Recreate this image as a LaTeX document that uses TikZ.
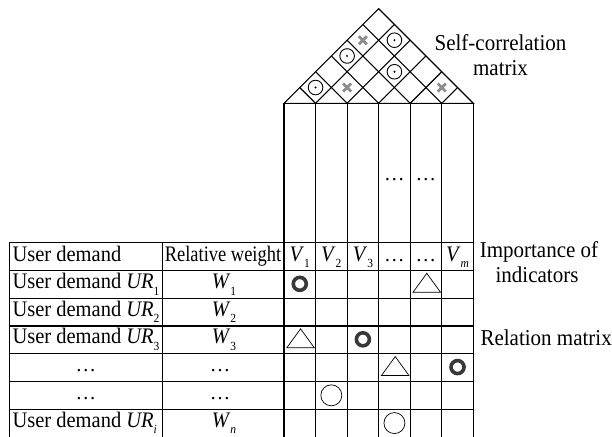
\documentclass[tikz,border=0pt]{standalone}
\usepackage{fontspec}
\setmainfont{Liberation Serif}
\newcommand{\mysub}[1]{\raisebox{-0.3em}{\fontsize{11.5}{12}\selectfont #1}}
\newcommand{\vst}[1]{\scalebox{1}[1.08]{#1}}
\begin{document}
\begin{tikzpicture}[x=1pt,y=-1pt,line width=1.1pt,
  txt/.style={inner sep=0pt,font=\fontsize{20.5}{22}\selectfont},
  lbl/.style={inner sep=0pt,font=\fontsize{21}{25}\selectfont},
  codot/.pic={\draw[line width=0.9pt] (0,0) circle (7.3); \fill (0,0) circle (1.1);},
  xmark/.pic={\draw[black!45,line width=2.8pt] (-4,-4)--(4,4) (-4,4)--(4,-4);},
  ring/.pic={\draw[black!78,line width=3.6pt] (0,0) circle (6.5);},
  tri/.pic={\draw[line width=0.7pt] (-13.8,8) -- (13.8,8) -- (0,-11) -- cycle;},
  thinc/.pic={\draw[line width=0.7pt] (0,0) circle (10.5);}]
\useasboundingbox (0,0) rectangle (612,436);
\def\xo{284}\def\w{31.55}\def\yb{103.3}\def\yt{242.7}\def\rh{27.75}
% roof
\draw (\xo,\yb) -- ({\xo+3*\w},{\yb-3*\w}) -- ({\xo+6*\w},\yb) -- cycle;
\foreach \k in {1,...,5}{
  \draw ({\xo+\k*\w},\yb) -- ++({-\k*\w/2},{-\k*\w/2});
  \draw ({\xo+\k*\w},\yb) -- ++({(6-\k)*\w/2},{-(6-\k)*\w/2});
}
\foreach \i/\j in {1/1,1/3,3/4,2/5}
  \pic at ({\xo+\w*(\i+\j)/2},{\yb-(\j-\i+1)*\w/2}) {codot};
\foreach \i/\j in {2/2,5/5,1/4}
  \pic at ({\xo+\w*(\i+\j)/2},{\yb-(\j-\i+1)*\w/2}) {xmark};
% columns
\foreach \k in {0,...,6}
  \draw ({\xo+\k*\w},\yb) -- ({\xo+\k*\w},437);
\draw (9.3,\yt) -- (9.3,437);
\draw (162.3,\yt) -- (162.3,437);
\foreach \r in {0,...,6}
  \draw (9.3,{\yt+\r*\rh}) -- ({\xo+6*\w},{\yt+\r*\rh});
% relation symbols
\foreach \c/\r in {1/1,3/3,6/4}
  \pic at ({\xo+\w*(\c-0.5)},{\yt+\rh*(\r+0.5)-0.5}) {ring};
\foreach \c/\r in {5/1,1/3,4/4}
  \pic at ({\xo+\w*(\c-0.5)+0.8},{\yt+\rh*(\r+0.5)}) {tri};
\foreach \c/\r in {2/5,4/6}
  \pic at ({\xo+\w*(\c-0.5)},{\yt+\rh*(\r+0.5)}) {thinc};
% header texts
\node[txt,anchor=base west] (h1) at (12,261) {\vst{User demand}};
\node[txt,anchor=base] (h2) at (223,261) {\vst{\scalebox{0.9}[1]{Relative weight}}};
\node[txt,anchor=base] (v1) at ({\xo+0.5*\w},261) {\vst{\textit{V}\mysub{1}}};
\node[txt,anchor=base] (v2) at ({\xo+1.5*\w},261) {\vst{\textit{V}\mysub{2}}};
\node[txt,anchor=base] (v3) at ({\xo+2.5*\w},261) {\vst{\textit{V}\mysub{3}}};
\node[txt,anchor=base] (v4) at ({\xo+3.5*\w},261) {\dots};
\node[txt,anchor=base] (v5) at ({\xo+4.5*\w},261) {\dots};
\node[txt,anchor=base] (v6) at ({\xo+5.5*\w},261) {\vst{\textit{V}\mysub{\textit{m}}}};
\node[txt,anchor=base] (d4) at ({\xo+3.5*\w},180) {\dots};
\node[txt,anchor=base] (d5) at ({\xo+4.5*\w},180) {\dots};
% rows
\node[txt,anchor=base west] (u1) at (12,{\yt+1*\rh+18}) {\vst{User demand \textit{UR}\mysub{1}}};
\node[txt,anchor=base west] (u2) at (12,{\yt+2*\rh+18}) {\vst{User demand \textit{UR}\mysub{2}}};
\node[txt,anchor=base west] (u3) at (12,{\yt+3*\rh+18}) {\vst{User demand \textit{UR}\mysub{3}}};
\node[txt,anchor=base] (u4) at (85.8,{\yt+4*\rh+18}) {\dots};
\node[txt,anchor=base] (u5) at (85.8,{\yt+5*\rh+18}) {\dots};
\node[txt,anchor=base west] (u6) at (12,{\yt+6*\rh+18}) {\vst{User demand \textit{UR}\mysub{\textit{i}}}};
\node[txt,anchor=base] (w1) at (224,{\yt+1*\rh+18}) {\vst{\textit{W}\mysub{1}}};
\node[txt,anchor=base] (w2) at (224,{\yt+2*\rh+18}) {\vst{\textit{W}\mysub{2}}};
\node[txt,anchor=base] (w3) at (224,{\yt+3*\rh+18}) {\vst{\textit{W}\mysub{3}}};
\node[txt,anchor=base] (w4) at (220,{\yt+4*\rh+18}) {\dots};
\node[txt,anchor=base] (w5) at (220,{\yt+5*\rh+18}) {\dots};
\node[txt,anchor=base] (w6) at (224,{\yt+6*\rh+18}) {\vst{\textit{W}\mysub{\textit{n}}}};
% right labels
\node[lbl,anchor=base] (sc1) at (500.5,50) {\vst{Self-correlation}};
\node[lbl,anchor=base] (sc2) at (500.5,75) {\vst{matrix}};
\node[lbl,anchor=base] (im1) at (539,257) {\vst{Importance of}};
\node[lbl,anchor=base] (im2) at (537,282) {\vst{indicators}};
\node[lbl,anchor=base west] (rm) at (480,345) {\vst{Relation matrix}};
\end{tikzpicture}
\end{document}
